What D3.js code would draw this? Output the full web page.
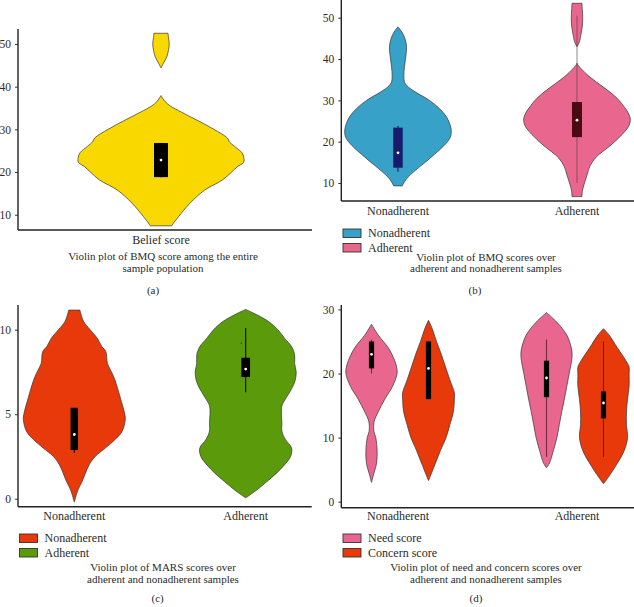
<!DOCTYPE html>
<html><head><meta charset="utf-8">
<script src="https://cdn.jsdelivr.net/npm/d3@7"></script>
<style>
body{margin:0;background:#fff}
svg{display:block}
text{font-family:"Liberation Serif","DejaVu Serif",serif;fill:#2b2b2b}
</style>
</head><body>
<svg id="c" width="634" height="607"></svg>
<script>
// ---------- DATA (value, relative density) ----------
// (a) BMQ belief score, entire sample
const beliefDensity = [[7.4,0.13],[8,0.15],[9.5,0.21],[12.7,0.35],[15.8,0.53],[18.1,0.74],[20.1,0.86],[21.2,0.92],[22.3,1.0],[23.5,1.0],[24.5,0.98],[26,0.89],[27,0.83],[28,0.80],[30,0.64],[32,0.45],[34,0.25],[35.5,0.11],[36.5,0.05],[37.9,0],[44.4,0],[45.5,0.03],[47,0.07],[48.5,0.09],[50,0.10],[51.5,0.09],[52.5,0.085]];
const beliefStats = [18.8, 18.8, 22.8, 26.8, 26.8]; // lo, q1, median, q3, hi

// (b) BMQ by adherence
const groups = ["Nonadherent", "Adherent"];
const bmqNonDensity = [[9.3,0.08],[11,0.16],[13,0.32],[15,0.51],[17,0.69],[19,0.86],[21,0.98],[22.5,1.0],[24,0.98],[26,0.91],[28,0.78],[30,0.59],[32,0.33],[33.5,0.17],[34.5,0.12],[36,0.11],[38,0.12],[41,0.15],[43,0.16],[45,0.13],[46.5,0.075],[47.8,0]];
const bmqAdhDensity = [[6.7,0.094],[8,0.10],[10,0.14],[12,0.19],[14,0.24],[16,0.34],[17.5,0.47],[19,0.62],[21,0.79],[22.5,0.90],[24,0.98],[25.5,1.0],[27,0.96],[28.5,0.88],[30,0.79],[32,0.62],[34,0.41],[36,0.21],[37.5,0.09],[38.5,0.02],[39,0],[43,0],[44,0.04],[46,0.075],[48,0.10],[50,0.107],[52,0.10],[53.5,0.094]];
const bmqNonStats = [12.7, 13.7, 17.3, 23.4, 23.8];
const bmqAdhStats = [10, 21.1, 25.2, 29.6, 50.5];

// (c) MARS by adherence
const marsNonDensity = [[-0.2,0],[0.5,0.07],[1,0.15],[2,0.29],[2.5,0.41],[3,0.61],[3.5,0.80],[4,0.94],[4.7,1.0],[5,0.99],[6,0.90],[7,0.80],[7.5,0.73],[8,0.65],[8.7,0.62],[9,0.54],[9.5,0.45],[10,0.31],[10.5,0.18],[11.16,0.11]];
const marsAdhDensity = [[0.05,0],[0.5,0.21],[1,0.41],[1.5,0.60],[2,0.76],[2.5,0.88],[3,0.90],[3.5,0.78],[4,0.71],[4.5,0.71],[5,0.70],[5.5,0.71],[6,0.80],[6.5,0.90],[7,0.97],[7.5,0.99],[8,0.96],[8.5,0.96],[9,0.90],[9.5,0.76],[10,0.63],[10.5,0.44],[11,0.14],[11.2,0]];
const marsNonStats = [2.7, 2.88, 3.8, 5.38, 5.38];
const marsAdhStats = [6.3, 7.2, 7.67, 8.34, 10.1];
const marsAdhOutliers = [9.2];

// (d) Need and concern scores by adherence
const subScores = ["Need score", "Concern score"];
const needNonDensity = [[3,0],[4,0.06],[6,0.19],[8,0.21],[10,0.16],[11,0.09],[12.5,0.10],[14,0.25],[16,0.50],[18,0.79],[20,0.96],[21,0.94],[22,0.87],[24,0.63],[26,0.25],[27.7,0]];
const concernNonDensity = [[3.3,0],[4,0.07],[6,0.26],[8,0.45],[10,0.66],[12,0.80],[14,0.93],[16,0.97],[17,0.97],[19,0.80],[21,0.64],[23,0.48],[25,0.30],[27,0.14],[28.3,0]];
const needAdhDensity = [[5.3,0],[6,0.11],[8,0.26],[10,0.39],[12,0.48],[14,0.57],[16,0.67],[18,0.76],[20,0.85],[22,0.94],[23,0.96],[24,0.93],[26,0.76],[28,0.39],[29.5,0]];
const concernAdhDensity = [[2.8,0],[4,0.21],[6,0.52],[8,0.78],[10,0.90],[12,0.86],[14,0.86],[16,0.90],[18,0.96],[20,0.96],[21,0.96],[22,0.84],[24,0.52],[26,0.21],[27,0]];
const needNonStats = [20, 20.8, 23, 25, 25.3];
const concernNonStats = [16, 16, 20.8, 25, 25];
const needAdhStats = [7, 16.3, 19.3, 22, 25.3];
const concernAdhStats = [7, 13, 15.4, 17.2, 25];

const ticksA = [10, 20, 30, 40, 50];
const ticksB = [10, 20, 30, 40, 50];
const ticksC = [0, 5, 10];
const ticksD = [0, 10, 20, 30];

// ---------- DRAWING ----------
const C = {yellow:"#f9d800", blue:"#38a1c7", pink:"#e9678f", red:"#e8390b", green:"#5b9b0b",
           navy:"#161b6c", maroon:"#4b0a12", black:"#000"};
const svg = d3.select("#c");

function segments(profile){
  const segs=[]; let cur=[];
  for(let i=0;i<profile.length;i++){
    cur.push(profile[i]);
    if(profile[i][1]===0 && i+1<profile.length && profile[i+1][1]===0){ segs.push(cur); cur=[]; }
  }
  segs.push(cur); return segs;
}
function violin(g, profile, cx, y, w, fill){
  const area = d3.area().curve(d3.curveCatmullRom.alpha(0.5))
    .y(d=>y(d[0])).x0(d=>cx-w(d[1])).x1(d=>cx+w(d[1]));
  segments(profile).forEach(seg=>{
    g.append("path").attr("d", area(seg)).attr("fill", fill)
      .attr("stroke", "#333").attr("stroke-width", 0.7);
  });
}
function box(g, stats, cx, y, bw, fill, wcol, wop){
  const [lo,q1,med,q3,hi] = stats;
  g.append("line").attr("x1",cx).attr("x2",cx).attr("y1",y(lo)).attr("y2",y(hi))
    .attr("stroke",wcol).attr("stroke-opacity",wop).attr("stroke-width",1.1);
  g.append("rect").attr("x",cx-bw/2).attr("width",bw).attr("y",y(q3)).attr("height",y(q1)-y(q3)).attr("fill",fill);
  g.append("circle").attr("cx",cx).attr("cy",y(med)).attr("r",1.4).attr("fill","#fff");
}
function axes(g, y, ticks, x0, yTop, yBot, xRight){
  const ax = d3.axisLeft(y).tickValues(ticks).tickSize(3).tickPadding(4).tickSizeOuter(0);
  const a = g.append("g").attr("transform",`translate(${x0},0)`).call(ax);
  a.select(".domain").remove();
  a.selectAll(".tick line").attr("stroke","#333");
  a.selectAll(".tick text").attr("font-size",11.5).attr("fill","#2b2b2b").style("font-family",'"Liberation Serif",serif');
  g.append("line").attr("x1",x0).attr("x2",x0).attr("y1",yTop).attr("y2",yBot).attr("stroke","#222").attr("stroke-width",1.4);
  g.append("line").attr("x1",x0).attr("x2",xRight).attr("y1",yBot).attr("y2",yBot).attr("stroke","#222").attr("stroke-width",1.4);
}
function text(g, str, x, y, anchor="middle", size=11){
  g.append("text").attr("x",x).attr("y",y).attr("text-anchor",anchor).attr("font-size",size).text(str);
}
function legend(g, items, x, y0){
  items.forEach((it,i)=>{
    const yy = y0 + i*14.5;
    g.append("rect").attr("x",x).attr("y",yy).attr("width",18).attr("height",8.5)
      .attr("fill",it[1]).attr("stroke","#333").attr("stroke-width",0.9);
    text(g, it[0], x+25, yy+8, "start", 12);
  });
}

// ----- (a) -----
{
  const g = svg.append("g");
  const y = d3.scaleLinear().domain([6.42, 53.5]).range([230, 29]);
  const w = d3.scaleLinear().domain([0,1]).range([0,82.7]);
  const cx = 161;
  violin(g, beliefDensity, cx, y, w, C.yellow);
  box(g, beliefStats, cx, y, 14, C.black, "#000", 1);
  axes(g, y, ticksA, 18, 29, 230, 312);
  text(g, "Belief score", cx, 244, "middle", 12);
  text(g, "Violin plot of BMQ score among the entire", 163, 260);
  text(g, "sample population", 163, 272);
  text(g, "(a)", 153, 294);
}
// ----- (b) -----
{
  const g = svg.append("g");
  const y = d3.scaleLinear().domain([5.64, 54.3]).range([201, 0]);
  const w = d3.scaleLinear().domain([0,1]).range([0,53.3]);
  const x = d3.scalePoint().domain(groups).range([398, 577]);
  violin(g, bmqNonDensity, x("Nonadherent"), y, w, C.blue);
  violin(g, bmqAdhDensity, x("Adherent"), y, w, C.pink);
  box(g, bmqNonStats, x("Nonadherent"), y, 9.5, C.navy, C.navy, 1);
  box(g, bmqAdhStats, x("Adherent"), y, 10, C.maroon, "#4a3a40", 0.55);
  axes(g, y, ticksB, 341.3, 0, 201, 634);
  groups.forEach(k=>text(g, k, x(k), 215, "middle", 12));
  legend(g, [["Nonadherent",C.blue],["Adherent",C.pink]], 343, 229);
  text(g, "Violin plot of BMQ scores over", 486, 260.5);
  text(g, "adherent and nonadherent samples", 486, 272);
  text(g, "(b)", 475, 294);
}
// ----- (c) -----
{
  const g = svg.append("g");
  const y = d3.scaleLinear().domain([-0.47, 11.46]).range([506.7, 305]);
  const w = d3.scaleLinear().domain([0,1]).range([0,51]);
  const x = d3.scalePoint().domain(groups).range([74.3, 245.7]);
  violin(g, marsNonDensity, x("Nonadherent"), y, w, C.red);
  violin(g, marsAdhDensity, x("Adherent"), y, w, C.green);
  box(g, marsNonStats, x("Nonadherent"), y, 7.5, C.black, "#000", 0.8);
  box(g, marsAdhStats, x("Adherent"), y, 8.7, C.black, "#000", 0.9);
  marsAdhOutliers.forEach(v=>g.append("circle").attr("cx",x("Adherent")-4.5).attr("cy",y(v)).attr("r",0.7).attr("fill","#333"));
  axes(g, y, ticksC, 18, 305, 506.7, 311.7);
  groups.forEach(k=>text(g, k, x(k), 520, "middle", 12));
  legend(g, [["Nonadherent",C.red],["Adherent",C.green]], 19.5, 534);
  text(g, "Violin plot of MARS scores over", 163, 571);
  text(g, "adherent and nonadherent samples", 163, 583);
  text(g, "(c)", 157.7, 602);
}
// ----- (d) -----
{
  const g = svg.append("g");
  const y = d3.scaleLinear().domain([-0.94, 30.69]).range([507.7, 305]);
  const w = d3.scaleLinear().domain([0,1]).range([0,26.7]);
  const x = d3.scalePoint().domain(groups).range([400, 575]);
  const sub = d3.scalePoint().domain(subScores).range([-28.5, 28.5]);
  const dens = {"Nonadherent":[needNonDensity, concernNonDensity], "Adherent":[needAdhDensity, concernAdhDensity]};
  const stats = {"Nonadherent":[needNonStats, concernNonStats], "Adherent":[needAdhStats, concernAdhStats]};
  const fills = [C.pink, C.red];
  groups.forEach(k=>{
    subScores.forEach((s,i)=>{
      violin(g, dens[k][i], x(k)+sub(s), y, w, fills[i]);
    });
  });
  groups.forEach(k=>{
    subScores.forEach((s,i)=>{
      box(g, stats[k][i], x(k)+sub(s), y, 5.2, C.black, "#2a0010", 0.6);
    });
  });
  axes(g, y, ticksD, 341.3, 305, 507.7, 634);
  text(g, "Nonadherent", 398, 520, "middle", 12);
  text(g, "Adherent", 577, 520, "middle", 12);
  legend(g, [["Need score",C.pink],["Concern score",C.red]], 343, 534);
  text(g, "Violin plot of need and concern scores over", 486, 571);
  text(g, "adherent and nonadherent samples", 486, 583);
  text(g, "(d)", 476, 602);
}
</script>
</body></html>
